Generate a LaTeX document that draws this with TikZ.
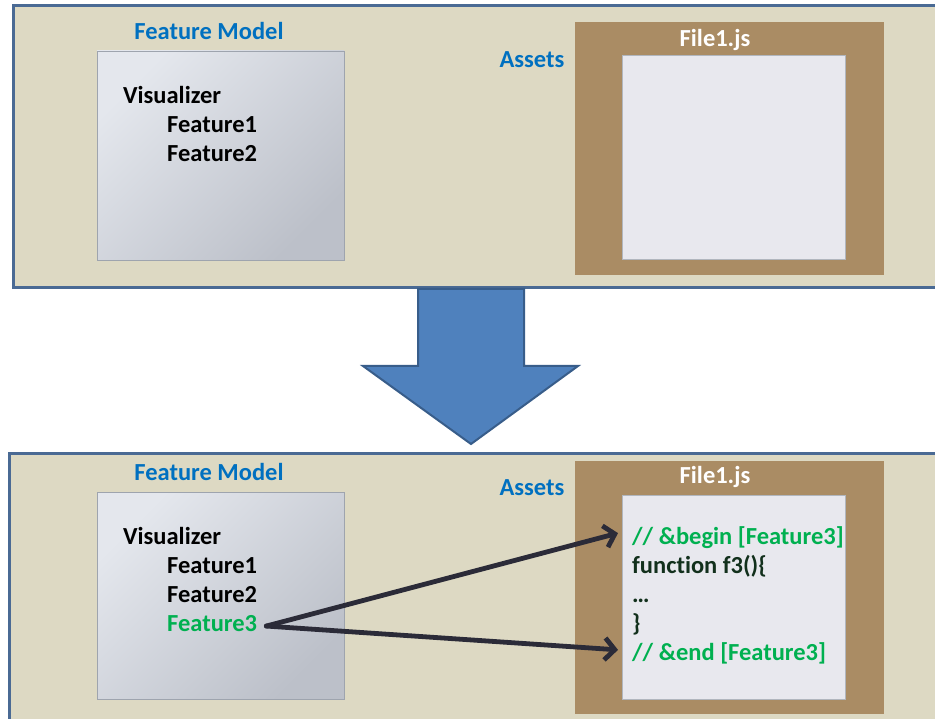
\documentclass[tikz,border=0pt]{standalone}
\usepackage{fontspec}
\setmainfont[Ligatures=NoCommon]{Carlito}
\usepackage{xcolor}
\usetikzlibrary{arrows.meta,positioning}
\definecolor{paneltan}{HTML}{DDD9C3}
\definecolor{panelblue}{HTML}{4A6A94}
\definecolor{filebrown}{HTML}{AA8C64}
\definecolor{filepaper}{HTML}{E8E8EE}
\definecolor{fmlight}{HTML}{E4E7ED}
\definecolor{fmdark}{HTML}{BCC0C9}
\definecolor{fmedge}{HTML}{9EA4AE}
\definecolor{titleblue}{HTML}{0070C0}
\definecolor{featgreen}{HTML}{00B050}
\definecolor{codedark}{HTML}{12301C}
\definecolor{linkdark}{HTML}{2B2B38}
\definecolor{bigblue}{HTML}{4F81BD}
\definecolor{bigedge}{HTML}{385D8A}

\begin{document}
\begin{tikzpicture}[x=1pt,y=-1pt,
  big/.style={font=\bfseries\fontsize{24.5}{29}\selectfont},
  panel/.style={draw=panelblue,line width=3pt,fill=paneltan,anchor=north west,
    minimum width=940pt},
  fmbox/.style={draw=fmedge,line width=0.8pt,top color=fmlight,bottom color=fmdark,
    shading angle=45,minimum width=247pt},
  filebox/.style={fill=filebrown,minimum width=309pt,minimum height=253pt},
  paper/.style={draw=fmedge!80,line width=0.8pt,fill=filepaper,minimum width=223pt,
    minimum height=204pt},
  title/.style={big,text=titleblue,anchor=base,inner sep=0pt},
  fname/.style={big,text=white,anchor=base,inner sep=0pt},
  item/.style={big,anchor=base west,inner sep=0pt},
  code/.style={item,text=codedark},
  comment/.style={item,text=featgreen},
  link/.style={-{Straight Barb[length=10pt,width=22pt]},line width=4.8pt,draw=linkdark,
    line cap=round,line join=round},
  bigarrow/.style={fill=bigblue,draw=bigedge,line width=2pt,line join=miter}
]
\clip (0,0) rectangle (935,719);
\fill[white] (0,0) rectangle (935,719);

% before
\node[panel,minimum height=282pt] (toppanel) at (12,4) {};
\node[title] (fmtitletop) at (209,40) {Feature Model};
\node[fmbox,minimum height=209pt] (fmtop) at (220.5,155.5) {};
\node[item] (vistop) at (123,104) {Visualizer};
\node[item] (f1top) at (167,133) {Feature1};
\node[item] (f2top) at (167,162) {Feature2};
\node[title] (assetstop) at (532,68) {Assets};
\node[filebox] (filetop) at (729.5,148.5) {};
\node[fname] (fnametop) at (715,47) {File1.js};
\node[paper] (papertop) at (733.5,157) {};

% transformation
\draw[bigarrow] (418,289) -- (524,289) -- (524,366) -- (578,366) -- (471,444)
  -- (363,366) -- (418,366) -- cycle;

% after
\node[panel,minimum height=280pt] (botpanel) at (8,452) {};
\node[title] (fmtitlebot) at (209,480) {Feature Model};
\node[fmbox,minimum height=207pt] (fmbot) at (220.5,595.5) {};
\node[item] (visbot) at (123,544) {Visualizer};
\node[item] (f1bot) at (167,573) {Feature1};
\node[item] (f2bot) at (167,602) {Feature2};
\node[item,text=featgreen] (f3bot) at (167,631) {Feature3};
\node[title] (assetsbot) at (532,495) {Assets};
\node[filebox] (filebot) at (729.5,587.5) {};
\node[fname] (fnamebot) at (715,483) {File1.js};
\node[paper] (paperbot) at (733.5,597) {};
\node[comment] (cbegin) at (632,544) {// \&begin [Feature3]};
\node[code] (cfunc) at (632,573) {function f3()\{};
\node[code] (cdots) at (632,602) {\dots};
\node[code] (cclose) at (632,631) {\}};
\node[comment] (cend) at (632,660) {// \&end [Feature3]};

\draw[link] ([xshift=9pt,yshift=-3pt]f3bot.east) -- ([xshift=-14pt,yshift=4pt]cbegin.west);
\draw[link] ([xshift=9pt,yshift=-3pt]f3bot.east) -- ([xshift=-14pt,yshift=3pt]cend.west);
\end{tikzpicture}
\end{document}
